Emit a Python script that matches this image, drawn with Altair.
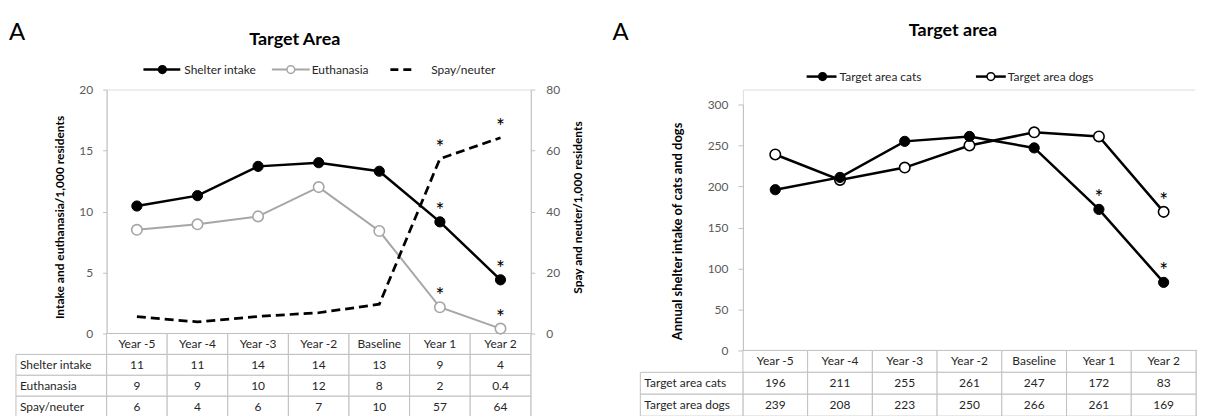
import altair as alt
import pandas as pd

FONT = "Lato"
GRID = "#bfbfbf"
TXT = "#262626"
LBL = "#595959"
GRAY = "#a6a6a6"

years = ["Year -5", "Year -4", "Year -3", "Year -2", "Baseline", "Year 1", "Year 2"]

intake_vals = [10.45, 11.3, 13.7, 14.0, 13.3, 9.15, 4.4]
euth_vals = [8.5, 8.95, 9.6, 12.0, 8.4, 2.15, 0.4]
spay_vals = [5.5, 3.8, 5.6, 6.8, 9.6, 57.3, 64.2]
intake_star = [0, 0, 0, 0, 0, 1, 1]
euth_star = [0, 0, 0, 0, 0, 1, 1]
spay_star = [0, 0, 0, 0, 0, 1, 1]

left_rows = ["Shelter intake", "Euthanasia", "Spay/neuter"]
intake_tbl = ["11", "11", "14", "14", "13", "9", "4"]
euth_tbl = ["9", "9", "10", "12", "8", "2", "0.4"]
spay_tbl = ["6", "4", "6", "7", "10", "57", "64"]

cats_vals = [196, 211, 255, 261, 247, 172, 83]
dogs_vals = [239, 208, 223, 250, 266, 261, 169]
cats_star = [0, 0, 0, 0, 0, 1, 1]
dogs_star = [0, 0, 0, 0, 0, 0, 1]

right_rows = ["Target area cats", "Target area dogs"]
cats_tbl = ["196", "211", "255", "261", "247", "172", "83"]
dogs_tbl = ["239", "208", "223", "250", "266", "261", "169"]

one = pd.DataFrame({"k": [0]})


def xenc():
    return alt.X("year:N", scale=alt.Scale(type="band", domain=years, paddingInner=0, paddingOuter=0), axis=None)


def sdf(vals, stars):
    return pd.DataFrame({"year": years, "v": vals, "star": stars})


def label(s, x, y, size, weight="normal", align="left", color=TXT):
    return alt.Chart(one).mark_text(text=s, font=FONT, fontSize=size, fontWeight=weight, align=align,
                                    baseline="middle", color=color).encode(x=alt.value(x), y=alt.value(y))


def hrule(x1, x2, y, color, width, dash=None):
    kw = dict(color=color, strokeWidth=width)
    if dash:
        kw["strokeDash"] = dash
    return alt.Chart(one).mark_rule(**kw).encode(x=alt.value(x1), x2=alt.value(x2), y=alt.value(y))


def vcover(x, y1, y2):
    return alt.Chart(one).mark_rule(color="white", strokeWidth=3).encode(
        x=alt.value(x), y=alt.value(y1), y2=alt.value(y2))


def dot(x, y, fill, stroke, size=60):
    return alt.Chart(one).mark_circle(fill=fill, stroke=stroke, strokeWidth=1.5, size=size, opacity=1).encode(
        x=alt.value(x), y=alt.value(y))


def table(rows, cell_rows, label_left, y_range, grid=GRID):
    hdr = "hdr"
    recs = [{"year": y, "row": hdr, "txt": y} for y in years]
    for r, vals in zip(rows, cell_rows):
        for y, v in zip(years, vals):
            recs.append({"year": y, "row": r, "txt": v})
    df = pd.DataFrame(recs)
    lab = pd.DataFrame({"row": rows})
    Y = alt.Y("row:N", scale=alt.Scale(type="band", domain=[hdr] + rows, range=y_range,
                                       paddingInner=0, paddingOuter=0), axis=None)
    cells = alt.Chart(df).mark_rect(fill="white", stroke=grid, strokeWidth=1).encode(x=xenc(), y=Y)
    labcells = alt.Chart(lab).mark_rect(fill="white", stroke=grid, strokeWidth=1).encode(
        x=alt.value(label_left), x2=alt.value(0), y=Y)
    txt = alt.Chart(df).mark_text(font=FONT, fontSize=12, color=TXT).encode(x=xenc(), y=Y, text="txt:N")
    labtxt = alt.Chart(lab).mark_text(font=FONT, fontSize=12, color=TXT, align="left").encode(
        x=alt.value(label_left + 4), y=Y, text="row:N")
    return alt.layer(cells, labcells, txt, labtxt)


AX = dict(tickColor=GRID, domainColor=GRID, labelFont=FONT, labelFontSize=12, labelColor=LBL,
          titleFont=FONT, titleFontWeight="bold", titleColor="#000", grid=False,
          titleAngle=270, titleAlign="center", titleBaseline="middle")


def stars(df, Y, color="#000"):
    return alt.Chart(df).transform_filter("datum.star == 1").mark_text(
        text="*", font=FONT, fontSize=21, baseline="alphabetic", dy=-4, color=color).encode(x=xenc(), y=Y)


# ================= LEFT PANEL =================
LW, LPH, LH = 426, 245, 329
YL = alt.Y("v:Q", scale=alt.Scale(domain=[0, 20], range=[LPH, 0], nice=False, zero=False),
           axis=alt.Axis(orient="left", values=[0, 5, 10, 15, 20], title="Intake and euthanasia/1,000 residents",
                         titleX=-47, titleY=128, titleFontSize=12, tickSize=4, labelPadding=10, **AX))
YS = alt.Y("v:Q", scale=alt.Scale(domain=[0, 80], range=[LPH, 0], nice=False, zero=False),
           axis=alt.Axis(orient="right", values=[0, 20, 40, 60, 80], title="Spay and neuter/1,000 residents",
                         titleX=47, titleY=118, titleFontSize=12, tickSize=4, labelPadding=11, **AX))

d_int = sdf(intake_vals, intake_star)
d_eu = sdf(euth_vals, euth_star)
d_sp = sdf(spay_vals, spay_star)

main_left = alt.layer(
    alt.Chart(d_eu).mark_line(color=GRAY, strokeWidth=2).encode(x=xenc(), y=YL),
    alt.Chart(d_int).mark_line(color="#000", strokeWidth=2.5).encode(x=xenc(), y=YL),
    alt.Chart(d_eu).mark_circle(fill="white", stroke=GRAY, strokeWidth=1.6, size=110, opacity=1).encode(x=xenc(), y=YL),
    alt.Chart(d_int).mark_circle(fill="#000", stroke="#000", strokeWidth=1, size=105, opacity=1).encode(x=xenc(), y=YL),
    stars(d_int, YL),
    stars(d_eu, YL),
)
spay_left = alt.layer(
    alt.Chart(d_sp).mark_line(color="#000", strokeWidth=2.75, strokeDash=[9, 5]).encode(x=xenc(), y=YS),
    stars(d_sp, YS),
)
left_tbl = table(left_rows, [intake_tbl, euth_tbl, spay_tbl], -91, [LPH, LH])

left_deco = [
    label("A", -98, -57, 24, color="#000"),
    label("Target Area", 189, -50, 18, weight="bold", align="center", color="#000"),
    hrule(37, 74, -20, "#000", 2.5), dot(56, -20, "#000", "#000"),
    label("Shelter intake", 78, -20, 12),
    hrule(166, 204, -20, GRAY, 2), dot(185, -20, "white", GRAY),
    label("Euthanasia", 206, -20, 12),
    hrule(285, 306, -20, "#000", 2.75, [8, 5]),
    label("Spay/neuter", 326, -20, 12),
]

left = alt.layer(left_tbl, main_left, spay_left, *left_deco).resolve_scale(y="independent").properties(
    width=LW, height=LH)

# ================= RIGHT PANEL =================
RW, RH = 455, 328
RTOP, RBOT = 15, 262
YR = alt.Y("v:Q", scale=alt.Scale(domain=[0, 300], range=[RBOT, RTOP], nice=False, zero=False),
           axis=alt.Axis(orient="left", values=[0, 50, 100, 150, 200, 250, 300],
                         title="Annual shelter intake of cats and dogs",
                         titleX=-66, titleY=142, titleFontSize=13, tickSize=5, labelPadding=10, **AX))
d_cat = sdf(cats_vals, cats_star)
d_dog = sdf(dogs_vals, dogs_star)

main_right = alt.layer(
    alt.Chart(d_dog).mark_line(color="#000", strokeWidth=2.5).encode(x=xenc(), y=YR),
    alt.Chart(d_cat).mark_line(color="#000", strokeWidth=2.5).encode(x=xenc(), y=YR),
    alt.Chart(d_dog).mark_circle(fill="white", stroke="#000", strokeWidth=1.6, size=110, opacity=1).encode(x=xenc(), y=YR),
    alt.Chart(d_cat).mark_circle(fill="#000", stroke="#000", strokeWidth=1, size=105, opacity=1).encode(x=xenc(), y=YR),
    stars(d_cat, YR),
    stars(d_dog, YR),
)
right_tbl = table(right_rows, [cats_tbl, dogs_tbl], -103, [RBOT, RH])

right_deco = [
    label("A", -131, -57, 24, color="#000"),
    label("Target area", 211, -59, 18, weight="bold", align="center", color="#000"),
    hrule(64, 94, -13, "#000", 2.5), dot(80, -13, "#000", "#000"),
    label("Target area cats", 97, -13, 12),
    hrule(234, 264, -13, "#000", 2.5), dot(249, -13, "white", "#000"),
    label("Target area dogs", 266, -13, 12),
    vcover(RW, 0, RBOT - 1),
]

right = alt.layer(right_tbl, main_right, *right_deco).resolve_scale(y="independent").properties(
    width=RW, height=RH)

chart = alt.hconcat(left, right, spacing=27).properties(
    padding={"left": 0, "top": 11, "right": 0, "bottom": 0}
).configure_view(stroke="transparent", strokeWidth=0).configure(background="white")

chart.save("out.html", embed_options={"renderer": "svg", "actions": False})
